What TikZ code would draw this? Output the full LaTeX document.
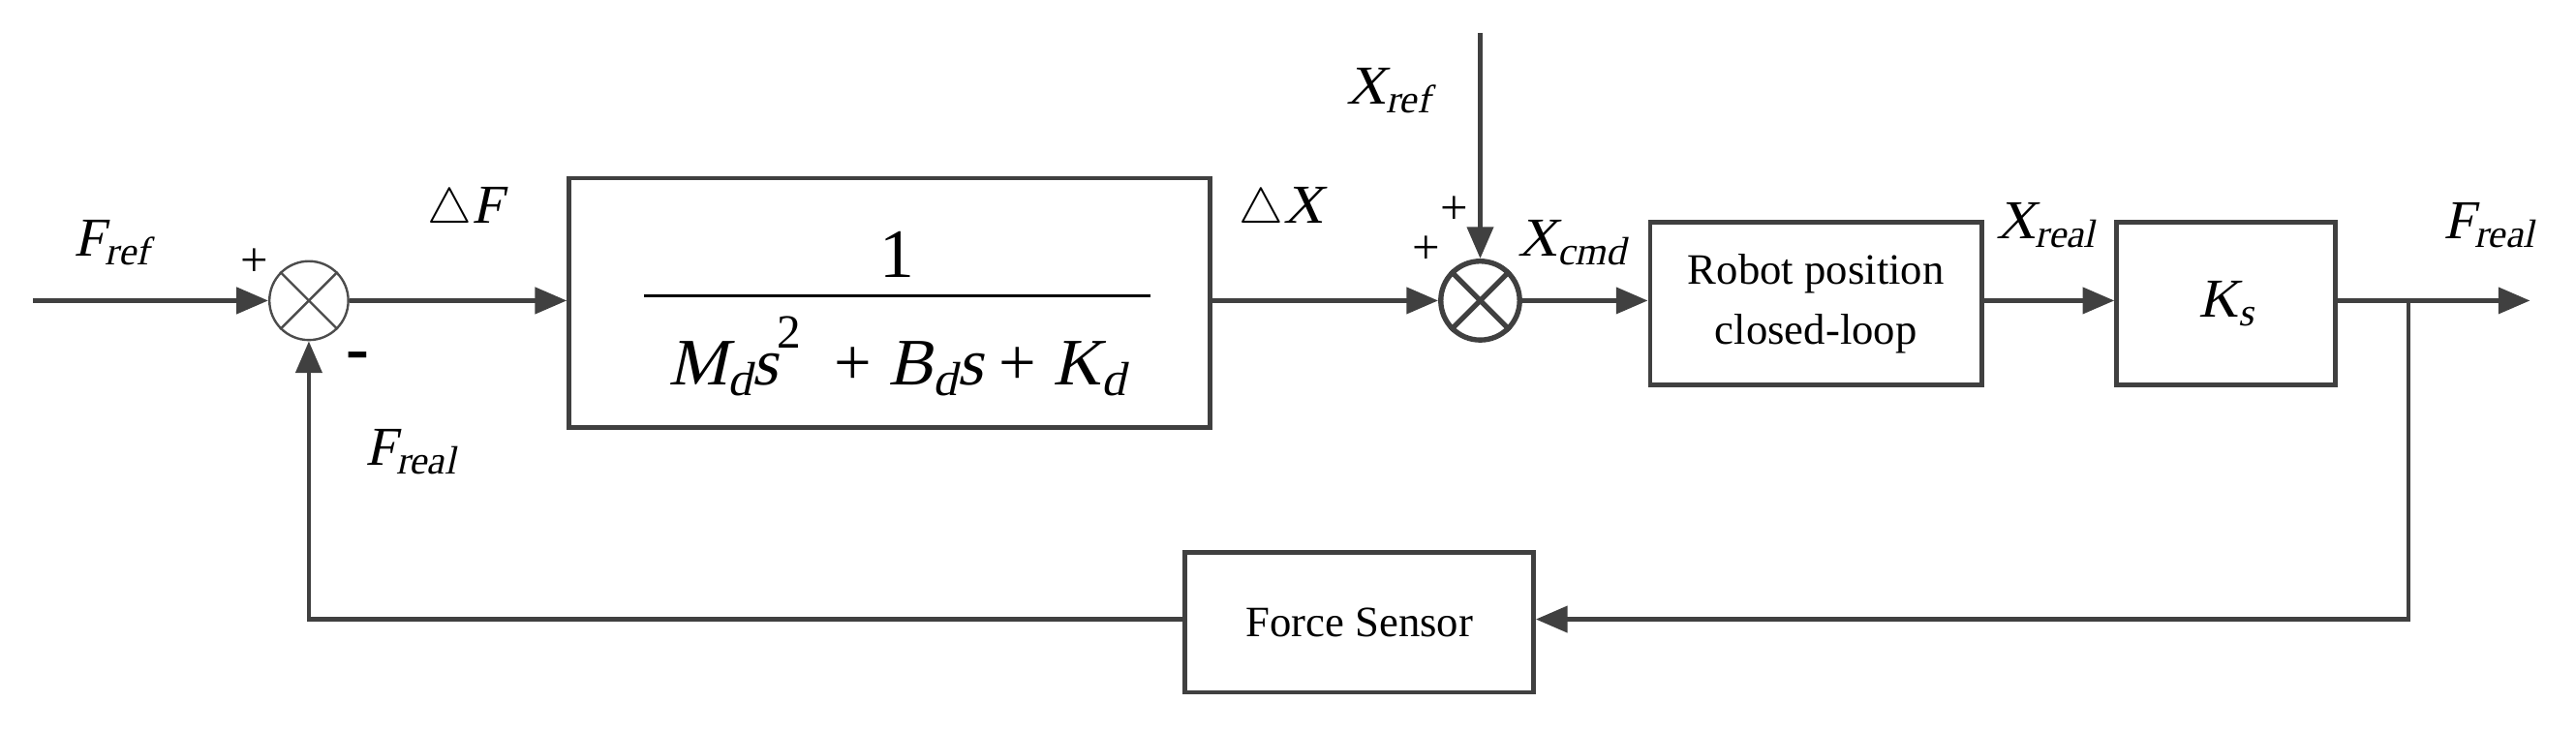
\documentclass[tikz,border=0pt]{standalone}
\usepackage{fontspec}
\setmainfont{Liberation Serif}
\newfontfamily\slt[FakeSlant=0.22]{Liberation Serif}
\usetikzlibrary{arrows.meta}
\newcommand{\ti}[1]{{\slt #1}}
\newcommand{\vi}[2]{\ti{#1}\raisebox{-0.35ex}{\scalebox{0.72}{\ti{#2}}}}
\begin{document}
\begin{tikzpicture}[x=0.02cm,y=-0.02cm,
  ln/.style={draw=black!75,line width=1.6pt},
  arr/.style={ln,-{Triangle[length=11pt,width=9pt]}},
  blk/.style={draw=black!75,line width=1.6pt,rectangle,anchor=north west,inner sep=0pt},
  lab/.style={font=\fontsize{19}{22}\selectfont},
  sm/.style={font=\fontsize{17}{18}\selectfont}]
\useasboundingbox (0,0) rectangle (1568,446);
% sums
\node[circle,draw=black!70,line width=0.8pt,minimum size=48*0.02cm,inner sep=0pt] (s1) at (188,183) {};
\draw[black!70,line width=0.8pt] (s1.north west)--(s1.south east) (s1.north east)--(s1.south west);
\node[circle,draw=black!75,line width=1.8pt,minimum size=48*0.02cm,inner sep=0pt] (s2) at (901,183) {};
\draw[black!75,line width=1.8pt] (s2.north west)--(s2.south east) (s2.north east)--(s2.south west);
% blocks
\node[blk,minimum width=390*0.02cm,minimum height=152*0.02cm] (b1) at (345,107) {};
\node[font=\fontsize{24}{24}\selectfont] (num) at (546,155) {1};
\draw[black,line width=1pt] (392,180) -- (700,180);
\node[font=\fontsize{23}{24}\selectfont] (den) at (546,217) {\vi{M}{d}\ti{s}\raisebox{1.2ex}{\scalebox{0.72}{2}}\ \ + \vi{B}{d}\ti{s}\ + \vi{K}{d}};
\node[blk,minimum width=202*0.02cm,minimum height=99*0.02cm] (b2) at (1003,134) {};
\node[align=center,font=\fontsize{15}{21}\selectfont] (t2) at (b2.center) {Robot position\\closed-loop};
\node[blk,minimum width=133*0.02cm,minimum height=99*0.02cm] (b3) at (1287,134) {};
\node[lab] (t3) at (b3.center) {\vi{K}{s}};
\node[blk,minimum width=212*0.02cm,minimum height=85*0.02cm] (b4) at (720,335) {};
\node[font=\fontsize{15}{18}\selectfont] (t4) at (b4.center) {Force Sensor};
% coordinates
\coordinate (in) at (20,183);
\coordinate (xr) at (901,20);
\coordinate (br) at (1466,183);
\coordinate (out) at (1540,183);
\coordinate (c1) at (1466,377);
\coordinate (c2) at (188,377);
% connectors
\draw[arr] (in) -- (s1.west);
\draw[arr] (s1.east) -- (b1.west|-s1);
\draw[arr] (b1.east|-s2) -- (s2.west);
\draw[arr] (xr) -- (s2.north);
\draw[arr] (s2.east) -- (b2.west|-s2);
\draw[arr] (b2.east|-s2) -- (b3.west|-s2);
\draw[arr] (b3.east|-s2) -- (out);
\draw[arr] (br) -- (c1) -- (b4.east|-c1);
\draw[arr] (b4.west|-c1) -- (c2) -- (s1.south);
% labels
\node[lab] (lfref) at (68,148) {\vi{F}{ref}};
\node[sm] (lp1) at (155,160) {+};
\node[font=\fontsize{24}{24}\selectfont\bfseries] (lm) at (218,220) {-};
\node[lab] (lfr) at (250,275) {\vi{F}{real}};
\node[lab] (ldf) at (283,128) {$\triangle$\ti{F}};
\node[lab] (ldx) at (780,128) {$\triangle$\ti{X}};
\node[lab] (lxref) at (845,55) {\vi{X}{ref}};
\node[sm] (lp2) at (885,128) {+};
\node[sm] (lp3) at (868,152) {+};
\node[lab] (lxc) at (957,148) {\vi{X}{cmd}};
\node[lab] (lxr) at (1245,137) {\vi{X}{real}};
\node[lab] (lfo) at (1515,137) {\vi{F}{real}};
\end{tikzpicture}
\end{document}
